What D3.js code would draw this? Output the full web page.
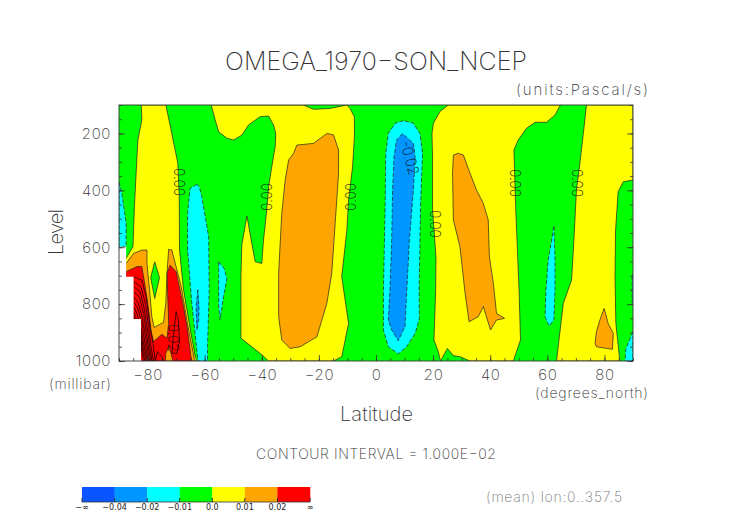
<!DOCTYPE html>
<html><head><meta charset="utf-8">
<script src="https://cdn.jsdelivr.net/npm/d3@7"></script>
<style>html,body{margin:0;padding:0;background:#fff}svg{display:block}text{font-family:Inter,"Noto Sans",sans-serif;font-weight:200}</style>
</head><body><svg id="c" width="752" height="532"></svg>
<script>
// Contour bands as [latitude, level] outlines
const leftCyan=[[-90,370],[-89,411],[-87.5,516],[-87.5,598],[-90,598]];
const yellowWest=[[-82.2,100],[-82,153],[-83.4,223],[-84,340],[-84.6,457],[-85.1,598],[-87.5,639],[-90,665],[-90,1000],[-62.7,1000],[-63.3,985],[-65,891],[-67.4,750],[-68.8,610],[-68.9,422],[-69.4,305],[-71.5,200],[-73.6,100]];
const greenDiamond=[[-77.5,651],[-75.8,707],[-77.5,780],[-78.9,707]];
const orangeWest=[[-90,680],[-87.5,657],[-84.9,622],[-82,610],[-80.2,610],[-80.2,657],[-79.3,750],[-78.5,844],[-77.7,882],[-74.4,864],[-73.6,797],[-73.2,692],[-72.6,607],[-71.5,610],[-68.2,739],[-66,868],[-63.5,1000],[-90,1000]];
const redWest=[[-90,700],[-87.5,686],[-83.7,668],[-82,668],[-80.8,739],[-79.6,821],[-78.8,891],[-77.9,932],[-75,906],[-73.2,920],[-72.6,868],[-73.2,692],[-72.1,663],[-70,686],[-67.4,809],[-66,891],[-64.8,985],[-64.5,1000],[-71.1,1000],[-71.8,973],[-72.6,950],[-73.6,973],[-73.8,1000],[-90,1000]];
const yellowSouth=[[-57.7,100],[-56.3,153],[-55.1,194],[-52.2,217],[-49.9,223],[-47,206],[-44.6,170],[-40.6,141],[-37.6,139],[-35.9,170],[-35.1,200],[-35.3,246],[-36.5,317],[-37.6,387],[-38.5,493],[-39.4,575],[-40,657],[-42.3,651],[-43.5,586],[-45.2,490],[-47,592],[-47.3,704],[-47.3,920],[-40.6,973],[-37.6,1000],[-14.9,1000],[-12,985],[-9.6,868],[-12,704],[-10.2,540],[-9.6,434],[-8.2,317],[-7.5,200],[-7.6,141],[-9.1,112],[-10.2,100],[-16.1,112],[-21.9,115],[-25.4,100]];
const orangeSouth=[[-28.9,270],[-27.7,241],[-21.9,235],[-17.2,200],[-14.9,205],[-13.1,258],[-13.1,340],[-14.3,516],[-15.5,692],[-17.2,797],[-20.7,915],[-26.6,950],[-30.1,956],[-33,926],[-34.1,844],[-34.1,692],[-33,481],[-31.8,364],[-30.6,293]];
const yellowNorth=[[25.3,100],[22.4,123],[20.1,164],[19.6,200],[19.8,282],[19.8,469],[21,633],[20.9,750],[20.3,926],[21.8,967],[22.6,1000],[25,956],[27.1,981],[29.4,985],[32.9,1000],[48.1,1000],[50.6,926],[50.1,750],[48.9,457],[48.3,258],[49.8,223],[52.7,182],[55.7,161],[59.7,161],[62.7,135],[64.6,100]];
const orangeNorth=[[27.1,276],[28.8,270],[30.6,276],[32.3,323],[35.2,399],[37.6,446],[39.3,504],[39.7,633],[41.1,727],[42.2,833],[45,850],[42.2,856],[40.1,891],[37.6,809],[35.8,844],[32.6,862],[31.2,762],[29.4,598],[27.1,504],[26.8,340]];
const yellowPolar=[[73.7,100],[72.6,200],[71.4,305],[70.2,399],[69.3,575],[68.5,715],[65.6,797],[63.8,950],[63.2,1000],[85.4,1000],[84,868],[83.7,704],[83.9,540],[84.8,405],[86.6,370],[90,364],[90,100]];
const orangePolar=[[79.9,815],[78.4,856],[77.2,897],[76.7,938],[77.2,950],[82.8,959],[83.1,903],[81.3,868]];
const cyanWest=[[-62.7,379],[-65.1,393],[-66,481],[-66,610],[-64.5,797],[-63.5,891],[-62.5,985],[-62.3,1000],[-59,1000],[-59,950],[-58.4,750],[-58.6,563],[-59.6,504],[-61,422],[-61.9,387]];
const blueWest=[[-62.4,750],[-63,809],[-62.7,891],[-62.1,856],[-62,809]];
const cyanSmall=[[-55.1,651],[-53.2,674],[-52.2,709],[-53.4,774],[-54.6,854],[-55.1,809]];
const cyanEquator=[[9.6,155],[6.7,164],[4.3,200],[3.4,270],[3.2,457],[2.6,750],[2.6,891],[4.3,950],[7.8,975],[10.7,950],[13.7,903],[15.2,850],[15.1,750],[15.6,457],[16.3,270],[15.4,200],[13.1,164]];
const blueEquator=[[9.3,200],[7.2,223],[6.3,282],[5.8,399],[5.5,575],[4.9,750],[4.3,856],[5.5,891],[7.8,929],[10.2,879],[10.5,809],[11.7,575],[13.1,399],[13.7,282],[13.1,235]];
const cyanNorth=[[62.3,528],[60.3,645],[59.5,750],[59.2,844],[60.6,877],[62.3,856],[62.7,750],[62.7,645]];
const cyanEdge=[[89.7,698],[90,695],[90,797],[89.7,797]];
const cyanCorner=[[90,897],[87.5,956],[87.2,1000],[90,1000]];
const missing=[[-90,598],[-87.5,598],[-87.5,704],[-84.9,704],[-84.9,852],[-82.3,852],[-82.3,1000],[-90,1000]];
const strongLines=[
 [[-84.9,704],[-82,715],[-80.5,774],[-79.3,868],[-78.1,938],[-77.3,1000]],
 [[-84.9,721],[-82.3,739],[-80.8,797],[-79.6,879],[-78.8,950],[-77.9,1000]],
 [[-84.9,739],[-82.6,756],[-81.2,815],[-80,891],[-79.3,950],[-78.4,1000]],
 [[-84.9,756],[-82.8,776],[-81.4,833],[-80.4,903],[-79.6,956],[-78.8,1000]],
 [[-84.9,774],[-83.2,797],[-81.8,850],[-80.7,915],[-80,961],[-79.3,1000]],
 [[-84.9,791],[-83.4,815],[-82,868],[-81.1,926],[-80.4,967],[-79.6,1000]],
 [[-84.9,809],[-83.7,833],[-82.3,885],[-81.4,938],[-80.7,973],[-80,1000]],
 [[-84.9,827],[-84,850],[-82.3,903],[-81.6,950],[-81,979],[-80.5,1000]],
 [[-84.9,842],[-84.3,862],[-82.3,920],[-81.8,961],[-81.3,985],[-80.8,1000]],
 [[-82.3,938],[-82,967],[-81.6,991],[-81.2,1000]],
 [[-70,827],[-70.7,891],[-71.5,973],[-69.7,973],[-68.8,926],[-69.2,856],[-70,827]],
 [[-77.3,1000],[-76.5,967],[-75,985],[-74.4,1000]]
];
const lineLabels=["0.00","0.00","0.00","0.00","0.00","0.00","-0.02","0.02"];
const labelLats=[-69,-38.2,-8.8,20.7,48.7,70.4,11.9,-71];
const labelLevels=[371,423,423,518,374,374,286,919];
const labelTurns=[90,-90,-90,90,90,90,75,90];
const latTicks=[-80,-60,-40,-20,0,20,40,60,80];
const latMinor=d3.range(-90,91,5);
const levelTicks=[200,400,600,800,1000];
const levelMinor=d3.range(100,1001,50);
const legendColors=["#0a55ff","#0096ff","#00ffff","#00ff00","#ffff00","#ffa500","#ff0000"];
const legendLabels=["−∞","−0.04","−0.02","−0.01","0.0","0.01","0.02","∞"];

const yellow="#ffff00",orange="#ffa500",red="#ff0000",cyan="#00ffff",green="#00ff00",blue="#0096ff";
const bands=[
 [yellowWest,yellow,0],[yellowSouth,yellow,0],[yellowNorth,yellow,0],[yellowPolar,yellow,0],
 [orangeWest,orange,0],[redWest,red,0],[greenDiamond,green,0],
 [orangeSouth,orange,0],[orangeNorth,orange,0],[orangePolar,orange,0],
 [leftCyan,cyan,1],[cyanWest,cyan,1],[blueWest,blue,1],[cyanSmall,cyan,1],[cyanEquator,cyan,1],[blueEquator,blue,1],[cyanNorth,cyan,1],[cyanEdge,cyan,1],[cyanCorner,cyan,1]
];

const svg=d3.select("#c");
const x=d3.scaleLinear().domain([-90,90]).range([119,633]);
const y=d3.scaleLinear().domain([100,1000]).range([105,361]);
const line=d3.line().x(d=>x(d[0])).y(d=>y(d[1]));
svg.append("clipPath").attr("id","plot").append("rect").attr("x",119).attr("y",105).attr("width",514).attr("height",256);
const g=svg.append("g").attr("clip-path","url(#plot)");
g.append("rect").attr("x",119).attr("y",105).attr("width",514).attr("height",256).attr("fill",green);
g.selectAll("path.band").data(bands).join("path").attr("class","band")
 .attr("d",d=>line(d[0])+"Z").attr("fill",d=>d[1]).attr("stroke","#222").attr("stroke-width",0.7)
 .attr("stroke-dasharray",d=>d[2]?"4,2":null);
g.selectAll("path.strong").data(strongLines).join("path").attr("class","strong")
 .attr("d",line).attr("fill","none").attr("stroke","#200").attr("stroke-width",0.8);
g.append("path").attr("d",line(missing)+"Z").attr("fill","#fff");
svg.selectAll("text.cl").data(lineLabels).join("text").attr("class","cl")
 .attr("transform",(d,i)=>`translate(${x(labelLats[i])},${y(labelLevels[i])}) rotate(${labelTurns[i]})`)
 .attr("text-anchor","middle").attr("dy","0.36em").attr("font-size",15).attr("fill","#111")
 .attr("textLength",(d)=>d.length*7).attr("lengthAdjust","spacingAndGlyphs").text(d=>d);

function axisStyle(s){s.select(".domain").remove();s.selectAll("line").attr("stroke","#333").attr("stroke-width",0.8);}
const fmt=d=>String(d).replace("-","−");
const label=s=>s.selectAll("text").attr("font-size",15).attr("fill","#333").style("letter-spacing","0.6px");
svg.append("g").attr("transform","translate(0,361)").call(d3.axisBottom(x).tickValues(latMinor).tickSize(-3).tickFormat("")).call(axisStyle);
svg.append("g").attr("transform","translate(0,361)").call(d3.axisBottom(x).tickValues(latTicks).tickSize(-6).tickPadding(8).tickFormat(fmt)).call(axisStyle).call(label);
svg.append("g").attr("transform","translate(119,0)").call(d3.axisLeft(y).tickValues(levelMinor).tickSize(-3).tickFormat("")).call(axisStyle);
svg.append("g").attr("transform","translate(119,0)").call(d3.axisLeft(y).tickValues(levelTicks).tickSize(-6).tickPadding(8).tickFormat(fmt)).call(axisStyle).call(label);
svg.append("g").attr("transform","translate(633,0)").call(d3.axisRight(y).tickValues(levelMinor).tickSize(-3).tickFormat("")).call(axisStyle);
svg.append("g").attr("transform","translate(633,0)").call(d3.axisRight(y).tickValues(levelTicks).tickSize(-6).tickFormat("")).call(axisStyle);
svg.append("rect").attr("x",119).attr("y",105).attr("width",514).attr("height",256).attr("fill","none").attr("stroke","#333").attr("stroke-width",0.9);

function txt(t,x0,x1,base,size,col){
 svg.append("text").attr("x",x0).attr("y",base).attr("font-size",size).attr("fill",col||"#333")
  .attr("textLength",x1-x0).attr("lengthAdjust","spacing").text(t);
}
txt("OMEGA_1970−SON_NCEP",225,527,70,25,"#333");
txt("(units:Pascal/s)",516,648,95,15);
txt("(millibar)",49,111,389,14);
txt("(degrees_north)",535,648,398,14);
txt("Latitude",340,413,421,20);
txt("CONTOUR INTERVAL = 1.000E−02",256,496,459,14);
txt("(mean) lon:0..357.5",486,622,502,14,"#777");
svg.append("text").attr("transform","translate(63,232) rotate(-90)").attr("text-anchor","middle")
 .attr("font-size",20).attr("fill","#333").attr("textLength",46).attr("lengthAdjust","spacing").text("Level");

const lx=d3.scaleBand().domain(d3.range(legendColors.length)).range([82,310]).paddingInner(0);
svg.selectAll("rect.key").data(legendColors).join("rect").attr("class","key")
 .attr("x",(d,i)=>lx(i)).attr("y",487).attr("width",lx.bandwidth()+0.3).attr("height",15).attr("fill",d=>d);
svg.append("line").attr("x1",82).attr("x2",310).attr("y1",502).attr("y2",502).attr("stroke","#333").attr("stroke-width",0.8);
const lp=d3.scalePoint().domain(d3.range(legendLabels.length)).range([82,310]);
svg.selectAll("line.kt").data(legendLabels).join("line").attr("class","kt")
 .attr("x1",(d,i)=>lp(i)).attr("x2",(d,i)=>lp(i)).attr("y1",498).attr("y2",502).attr("stroke","#333");
svg.selectAll("text.kl").data(legendLabels).join("text").attr("class","kl")
 .attr("x",(d,i)=>lp(i)).attr("y",510).attr("text-anchor","middle")
 .attr("font-size",8).style("font-family","'DejaVu Sans'").style("font-weight",400).attr("fill","#222").text(d=>d);
</script></body></html>
